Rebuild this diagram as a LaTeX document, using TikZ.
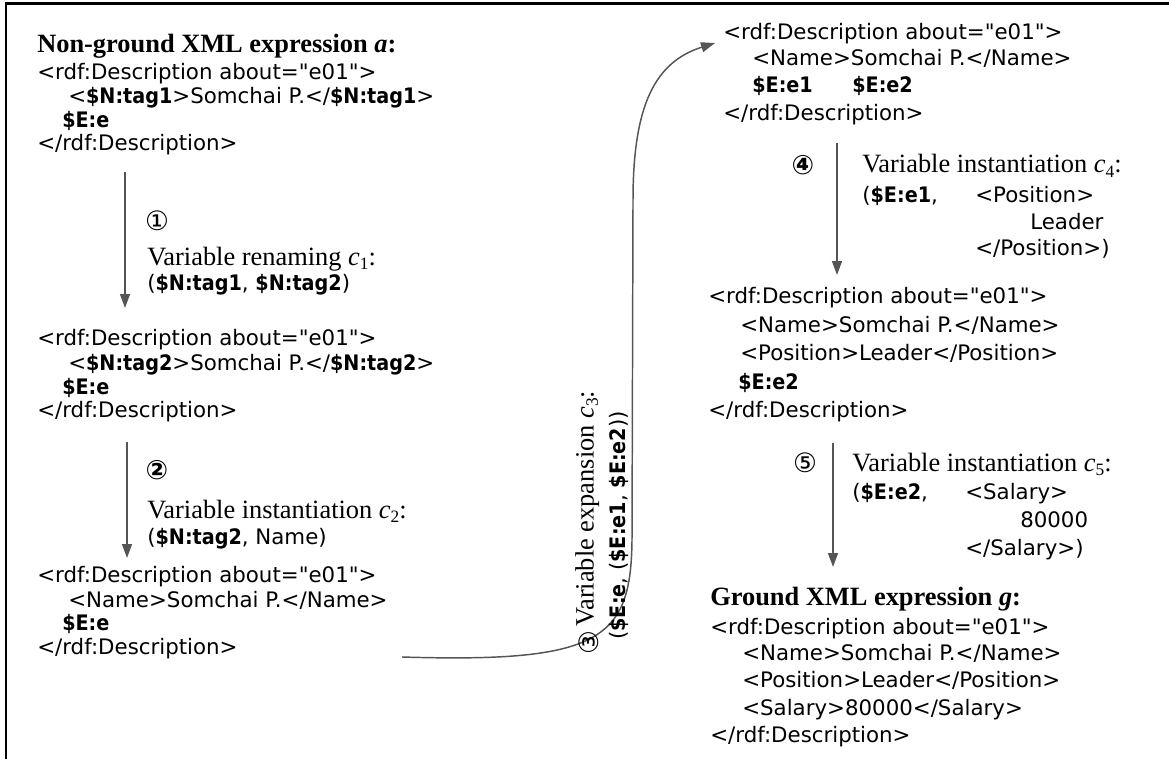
\documentclass[tikz,border=0pt]{standalone}
\usepackage{fontspec}
\setmainfont{Liberation Serif}
\newfontfamily\vsans{DejaVu Sans}[BoldFont={DejaVu Sans Condensed Bold}]
\newfontfamily\vnum{DejaVu Sans}
\usetikzlibrary{arrows.meta}
\definecolor{arrowgray}{HTML}{555555}
\newcommand\mysub[1]{\raisebox{-0.35ex}{\fontsize{13}{13}\selectfont #1}}
\begin{document}
\begin{tikzpicture}[x=0.75pt,y=-0.75pt,
  xl/.style={anchor=base west,inner sep=0pt,font=\vsans\fontsize{16}{18}\selectfont},
  lbl/.style={anchor=base west,inner sep=0pt,font=\fontsize{19.8}{22}\selectfont},
  hdr/.style={anchor=base west,inner sep=0pt,font=\bfseries\fontsize{19.8}{22}\selectfont},
  num/.style={inner sep=0pt,font=\vnum\fontsize{20}{20}\selectfont},
  bnum/.style={inner sep=0pt,font=\vnum\bfseries\fontsize{20}{20}\selectfont},
  flow/.style={draw=arrowgray,line width=1.1pt,-{Triangle[length=10.5pt,width=7.5pt]}},
  frame/.style={draw=black,line width=1.9pt},
]
\useasboundingbox (0,0) rectangle (1169,759);
\draw[frame] (6,759) -- (6,3.5) -- (1169,3.5);

% ---- block a
\node[hdr] (ha) at (37,53) {Non-ground XML expression \textit{a}:};
\node[xl] (a1) at (37,80) {<rdf:Description about="e01">};
\node[xl] (a2) at (68,104) {<\textbf{\$N:tag1}>Somchai P.</\textbf{\$N:tag1}>};
\node[xl] (a3) at (62,128) {\textbf{\$E:e}};
\node[xl] (a4) at (37,151) {</rdf:Description>};

\coordinate (s1) at (125,172);
\coordinate (e1) at (125,308);
\draw[flow] (s1) -- (e1);
\node[num] (n1) at (157,221) {①};
\node[lbl] (l1a) at (147,265) {Variable renaming \textit{c}\mysub{1}:};
\node[xl] (l1b) at (147,290.5) {(\textbf{\$N:tag1}, \textbf{\$N:tag2})};

% ---- block b
\node[xl] (b1) at (37,345.5) {<rdf:Description about="e01">};
\node[xl] (b2) at (68,370.5) {<\textbf{\$N:tag2}>Somchai P.</\textbf{\$N:tag2}>};
\node[xl] (b3) at (62,394.5) {\textbf{\$E:e}};
\node[xl] (b4) at (37,417.5) {</rdf:Description>};

\coordinate (s2) at (127,442);
\coordinate (e2) at (127,558);
\draw[flow] (s2) -- (e2);
\node[bnum] (n2) at (157,470) {②};
\node[lbl] (l2a) at (147,518) {Variable instantiation \textit{c}\mysub{2}:};
\node[xl] (l2b) at (147,544.5) {(\textbf{\$N:tag2}, Name)};

% ---- block c
\node[xl] (c1) at (37,582.5) {<rdf:Description about="e01">};
\node[xl] (c2) at (68,607.5) {<Name>Somchai P.</Name>};
\node[xl] (c3) at (62,630.5) {\textbf{\$E:e}};
\node[xl] (c4) at (37,654.5) {</rdf:Description>};

% ---- curved arrow 3
\coordinate (s3) at (402,657);
\coordinate (e3) at (715,43);
\draw[flow] (s3) .. controls (600,663) and (631,640) .. (632,540)
  -- (633,200) .. controls (633,105) and (655,62) .. (e3);
\node[num,rotate=90] (n3) at (589,643) {③};
\node[lbl,rotate=90] (l3a) at (593.5,627) {Variable expansion \textit{c}\mysub{3}:};
\node[xl,rotate=90] (l3b) at (625.5,640) {(\textbf{\$E:e}, (\textbf{\$E:e1}, \textbf{\$E:e2}))};

% ---- block d
\node[xl] (d1) at (723,39.5) {<rdf:Description about="e01">};
\node[xl] (d2) at (752,65.5) {<Name>Somchai P.</Name>};
\node[xl] (d3) at (752,92.5) {\textbf{\$E:e1}};
\node[xl] (d3b) at (852,92.5) {\textbf{\$E:e2}};
\node[xl] (d4) at (723,120.5) {</rdf:Description>};

\coordinate (s4) at (837,143);
\coordinate (e4) at (837,275);
\draw[flow] (s4) -- (e4);
\node[bnum] (n4) at (803,165) {④};
\node[lbl] (l4a) at (862,173) {Variable instantiation \textit{c}\mysub{4}:};
\node[xl] (l4b) at (862,202.5) {(\textbf{\$E:e1},};
\node[xl] (l4c) at (975,202.5) {<Position>};
\node[xl] (l4d) at (1030,229.5) {Leader};
\node[xl] (l4e) at (975,255.5) {</Position>)};

% ---- block e
\node[xl] (f1) at (708,303.5) {<rdf:Description about="e01">};
\node[xl] (f2) at (740,332.5) {<Name>Somchai P.</Name>};
\node[xl] (f3) at (740,360.5) {<Position>Leader</Position>};
\node[xl] (f4) at (738,389.5) {\textbf{\$E:e2}};
\node[xl] (f5) at (708,417.5) {</rdf:Description>};

\coordinate (s5) at (833,443);
\coordinate (e5) at (833,567);
\draw[flow] (s5) -- (e5);
\node[num] (n5) at (805,463) {⑤};
\node[lbl] (l5a) at (852,471) {Variable instantiation \textit{c}\mysub{5}:};
\node[xl] (l5b) at (852,499.5) {(\textbf{\$E:e2},};
\node[xl] (l5c) at (965,499.5) {<Salary>};
\node[xl] (l5d) at (1020,527.5) {80000};
\node[xl] (l5e) at (965,555.5) {</Salary>)};

% ---- ground block g
\node[hdr] (hg) at (710,605) {Ground XML expression \textit{g}:};
\node[xl] (g1) at (710,634.5) {<rdf:Description about="e01">};
\node[xl] (g2) at (742,660.5) {<Name>Somchai P.</Name>};
\node[xl] (g3) at (742,687.5) {<Position>Leader</Position>};
\node[xl] (g4) at (742,715.5) {<Salary>80000</Salary>};
\node[xl] (g5) at (710,742.5) {</rdf:Description>};
\end{tikzpicture}
\end{document}
